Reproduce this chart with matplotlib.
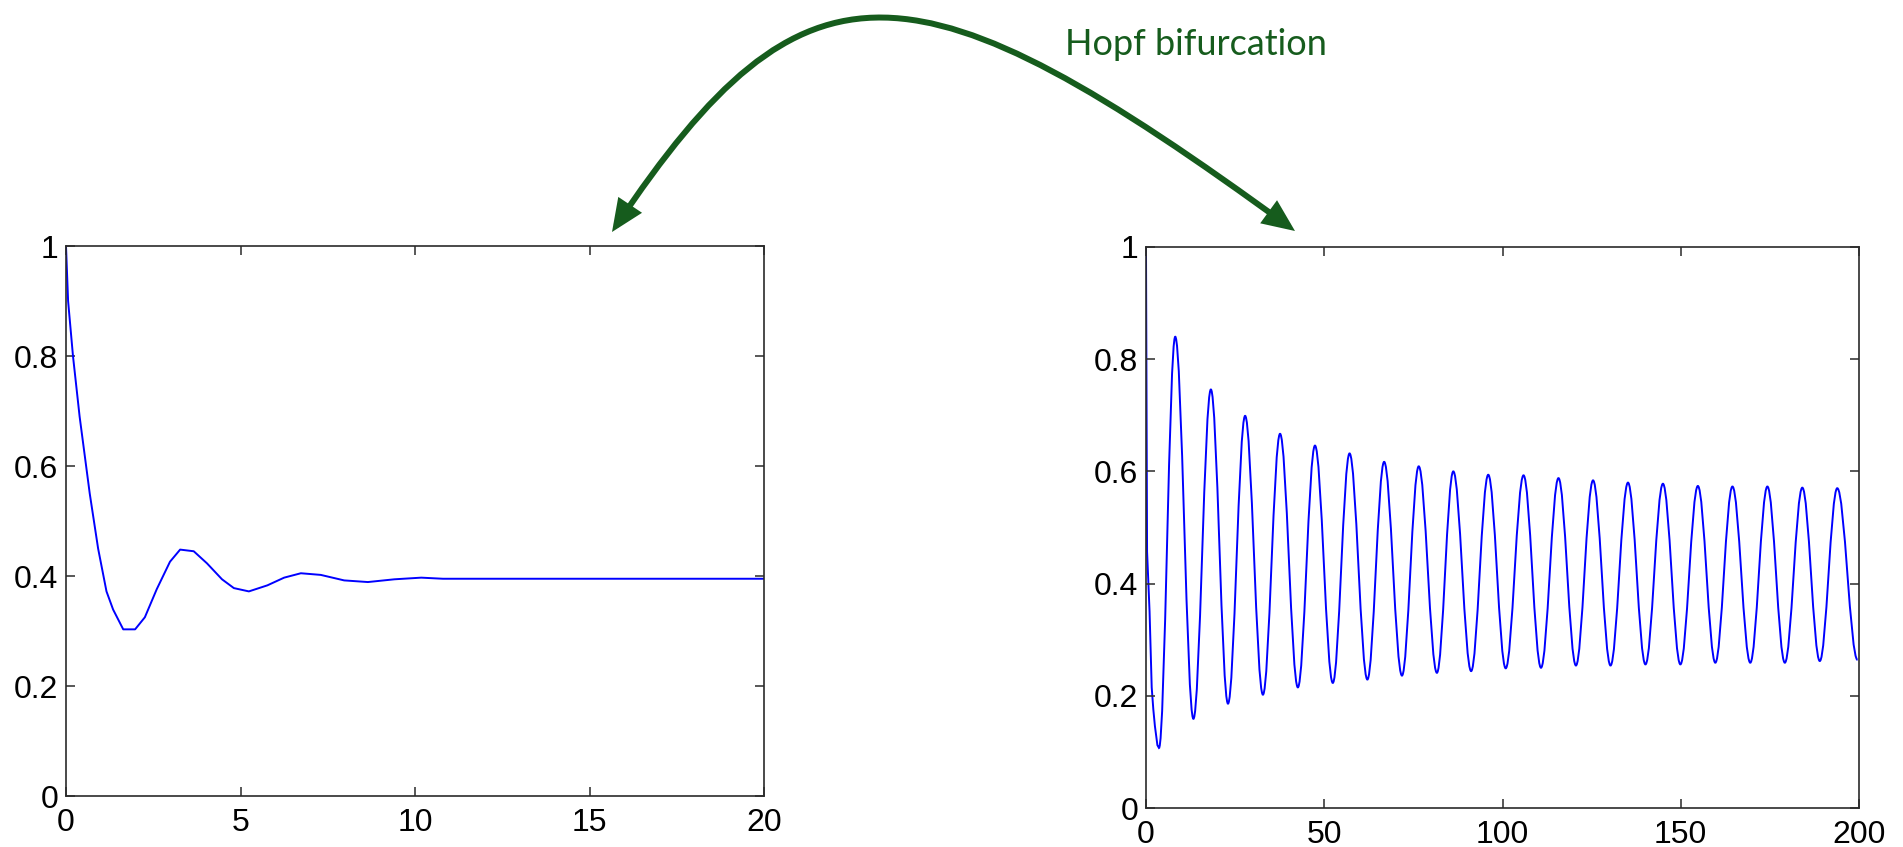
import matplotlib
matplotlib.use("Agg")
import matplotlib.pyplot as plt
from matplotlib.path import Path
from matplotlib.patches import PathPatch, FancyArrowPatch

# ---------------- data ----------------
# Left panel: damped oscillation converging to a fixed point
left_t = [0, 0.06, 0.2, 0.39, 0.68, 0.92, 1.16, 1.35, 1.64, 1.98, 2.26, 2.6,
          2.98, 3.27, 3.66, 4.04, 4.47, 4.81, 5.24, 5.77, 6.25, 6.73, 7.3,
          7.97, 8.65, 9.41, 10.18, 10.8, 20]
left_v = [1.0, 0.90, 0.80, 0.69, 0.55, 0.45, 0.372, 0.339, 0.303, 0.303, 0.325,
          0.376, 0.426, 0.448, 0.445, 0.423, 0.394, 0.378, 0.372, 0.383, 0.397,
          0.405, 0.402, 0.392, 0.389, 0.394, 0.397, 0.395, 0.395]

# Right panel: initial transient
right_start_t = [0, 0.3, 1.0, 1.6, 2.05, 2.5, 3.2]
right_start_v = [1.0, 0.457, 0.35, 0.215, 0.176, 0.146, 0.112]

# Right panel: successive extrema (trough, peak, trough, ...)
right_ext_t = [3.64, 8.2, 13.3, 18.2, 23.0, 27.8, 32.8, 37.6, 42.6, 47.4,
               52.4, 57.1, 62.1, 66.8, 71.8, 76.5, 81.6, 86.2, 91.2, 96.0,
               100.9, 105.9, 110.8, 115.7, 120.6, 125.4, 130.3, 135.2, 140.1,
               145.0, 149.9, 154.8, 159.7, 164.5, 169.5, 174.3, 179.2, 184.1,
               189.0, 193.9, 199.6]
right_ext_v = [0.107, 0.84, 0.159, 0.746, 0.186, 0.699, 0.202, 0.667, 0.215,
               0.646, 0.223, 0.632, 0.229, 0.617, 0.236, 0.609, 0.241, 0.600,
               0.244, 0.594, 0.249, 0.593, 0.250, 0.588, 0.254, 0.584, 0.254,
               0.580, 0.256, 0.578, 0.256, 0.574, 0.259, 0.573, 0.259, 0.573,
               0.259, 0.571, 0.262, 0.570, 0.264]

left_xticks = [0, 5, 10, 15, 20]
right_xticks = [0, 50, 100, 150, 200]
yticks = [0, 0.2, 0.4, 0.6, 0.8, 1]
ytick_labels = ["0", "0.2", "0.4", "0.6", "0.8", "1"]
annotation = "Hopf bifurcation"

# ---------------- figure ----------------
W, H = 1903, 847
fig = plt.figure(figsize=(W / 100, H / 100), dpi=100)
fig.patch.set_facecolor("white")

spine_col = "#2a2a2a"
tick_family = ["Liberation Sans", "DejaVu Sans"]
line_col = "#0000ff"
line_w = 1.4


def style_axes(ax, xticks, xmax):
    ax.set_xlim(0, xmax)
    ax.set_ylim(0, 1)
    ax.set_xticks(xticks)
    ax.set_xticklabels([str(v) for v in xticks])
    ax.set_yticks(yticks)
    ax.set_yticklabels(ytick_labels)
    for s in ax.spines.values():
        s.set_color(spine_col)
        s.set_linewidth(1.2)
    ax.tick_params(direction="in", length=6.5, width=1.1, color=spine_col,
                   top=True, right=True, labelsize=23, labelcolor="black")
    ax.tick_params(axis="x", pad=8.3)
    ax.tick_params(axis="y", pad=5.5)
    for lab in ax.get_xticklabels() + ax.get_yticklabels():
        lab.set_fontfamily(tick_family)


# left panel
ax1 = fig.add_axes([66 / W, 1 - 796 / H, 698 / W, 550 / H])
ax1.plot(left_t, left_v, color=line_col, lw=line_w, clip_on=True)
style_axes(ax1, left_xticks, 20)

# right panel
ax2 = fig.add_axes([1146 / W, 1 - 808 / H, 713 / W, 561 / H])
verts = [(right_start_t[0], right_start_v[0])]
codes = [Path.MOVETO]
for t, v in zip(right_start_t[1:] + [right_ext_t[0]],
                right_start_v[1:] + [right_ext_v[0]]):
    verts.append((t, v))
    codes.append(Path.LINETO)
k = 0.36
for i in range(len(right_ext_t) - 1):
    t0, v0 = right_ext_t[i], right_ext_v[i]
    t1, v1 = right_ext_t[i + 1], right_ext_v[i + 1]
    dt = t1 - t0
    verts += [(t0 + k * dt, v0), (t1 - k * dt, v1), (t1, v1)]
    codes += [Path.CURVE4] * 3
ax2.add_patch(PathPatch(Path(verts, codes), fill=False, edgecolor=line_col,
                        lw=line_w))
style_axes(ax2, right_xticks, 200)

# curved double arrow (pixel positions, y measured from top)
green = "#165c1d"
arrow_px = [(612, 232), (806, -58), (915, -46), (1295, 231)]
arrow_pts = [(x / W, 1 - y / H) for x, y in arrow_px]
arrow_path = Path(arrow_pts, [Path.MOVETO, Path.CURVE4, Path.CURVE4, Path.CURVE4])
arrow = FancyArrowPatch(path=arrow_path, transform=fig.transFigure,
                        arrowstyle="<|-|>,head_length=16,head_width=7",
                        mutation_scale=1, lw=4.3, color=green,
                        joinstyle="miter", capstyle="butt")
fig.add_artist(arrow)

fig.text(1065 / W, 1 - 55 / H, annotation, color=green, fontsize=26,
         family=["Lato", "DejaVu Sans"], ha="left", va="baseline")

fig.savefig("out.png", dpi=100, facecolor="white")
